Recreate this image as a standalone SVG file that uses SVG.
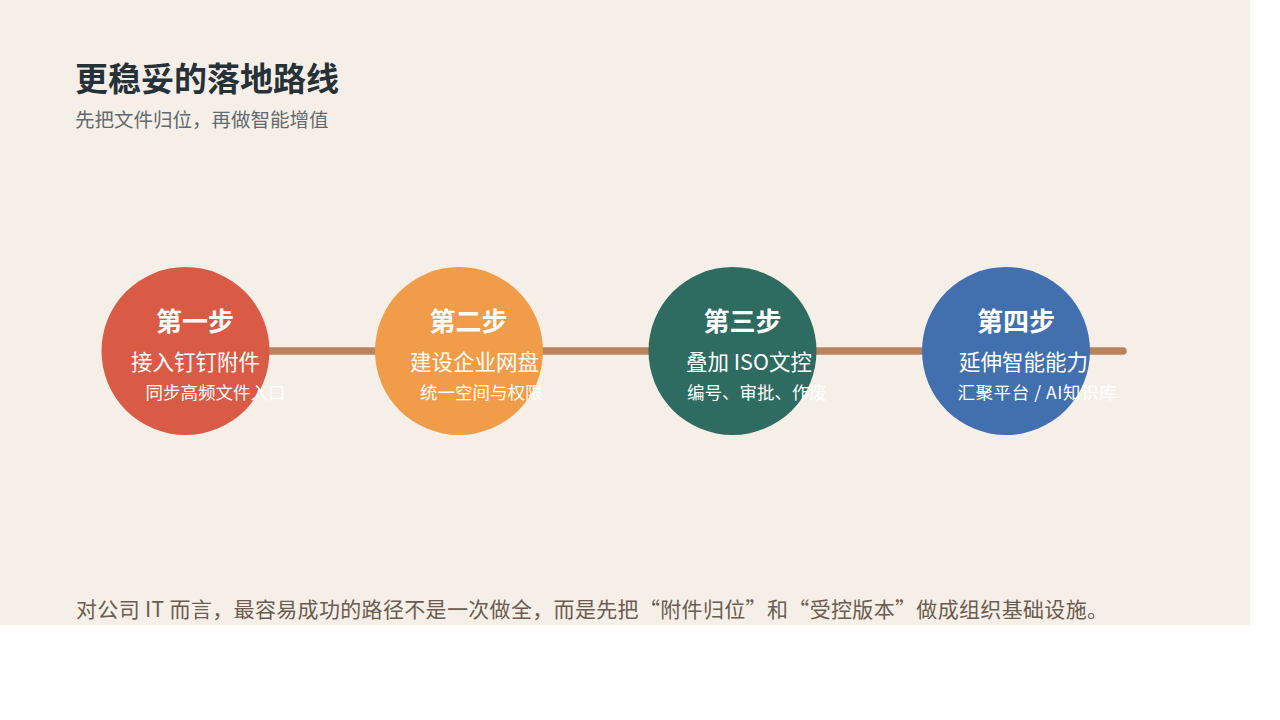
<svg xmlns="http://www.w3.org/2000/svg" width="1280" height="720" viewBox="0 0 1280 720">
<style>
text{font-family:"Noto Sans CJK SC","Noto Sans",sans-serif;}
.title{font-size:33px;font-weight:700;fill:#263238;}
.sub{font-size:19.5px;fill:#5f6b6e;}
.h{font-size:26px;font-weight:700;fill:#ffffff;}
.l2{font-size:21.5px;fill:#ffffff;}
.l3{font-size:17.5px;fill:#ffffff;}
.foot{font-size:21px;fill:#6b5b50;}
</style>
<rect x="0" y="0" width="1280" height="720" fill="#ffffff"/>
<rect x="0" y="0" width="1250" height="625" fill="#f6efe8"/>
<text class="title" x="75" y="91">更稳妥的落地路线</text>
<text class="sub" x="75" y="127">先把文件归位，再做智能增值</text>
<g id="connectors">
<line x1="186" y1="351" x2="1123" y2="351" stroke="#b8845f" stroke-width="7.5" stroke-linecap="round"/>
</g>
<g id="step1">
<circle cx="185.5" cy="351" r="84" fill="#d95b45"/>
<text class="h" x="156" y="331">第一步</text>
<text class="l2" x="131" y="370">接入钉钉附件</text>
<text class="l3" x="145.5" y="399">同步高频文件入口</text>
</g>
<g id="step2">
<circle cx="459" cy="351" r="84" fill="#f09c48"/>
<text class="h" x="429.5" y="331">第二步</text>
<text class="l2" x="410" y="370">建设企业网盘</text>
<text class="l3" x="420" y="399">统一空间与权限</text>
</g>
<g id="step3">
<circle cx="732.5" cy="351" r="84" fill="#2e6b60"/>
<text class="h" x="703.5" y="331">第三步</text>
<text class="l2" x="686" y="370">叠加 ISO文控</text>
<text class="l3" x="687" y="399">编号、审批、作废</text>
</g>
<g id="step4">
<circle cx="1006" cy="351" r="84" fill="#4270ae"/>
<text class="h" x="977" y="331">第四步</text>
<text class="l2" x="959" y="370">延伸智能能力</text>
<text class="l3" x="957.5" y="399" textLength="159" lengthAdjust="spacing">汇聚平台 / AI知识库</text>
</g>
<text class="foot" x="76" y="617" textLength="1032" lengthAdjust="spacing">对公司 IT 而言，最容易成功的路径不是一次做全，而是先把“附件归位”和“受控版本”做成组织基础设施。</text>
</svg>
